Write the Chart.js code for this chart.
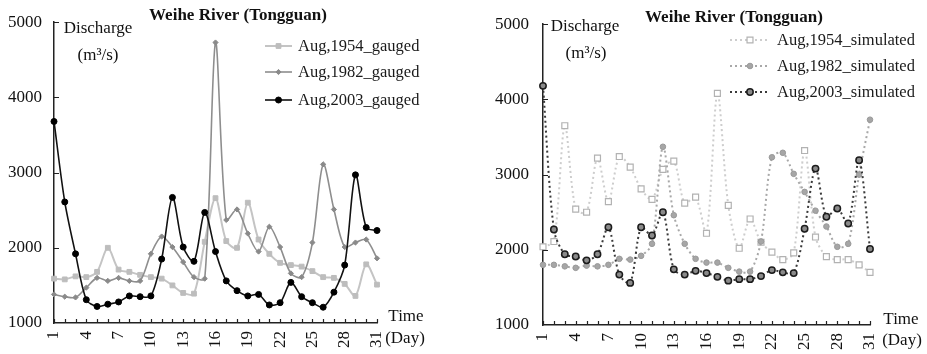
<!DOCTYPE html>
<html>
<head>
<meta charset="utf-8">
<script src="https://cdn.jsdelivr.net/npm/chart.js"></script>
<style>
  body { margin: 0; background: #fff; }
  #wrap { position: relative; width: 927px; height: 354px; }
  canvas { position: absolute; top: 0; }
  #left { left: 0; }
  #right { left: 463px; }
</style>
</head>
<body>
<div id="wrap">
  <canvas id="left" width="463" height="354"></canvas>
  <canvas id="right" width="464" height="354"></canvas>
</div>
<script>
// --- data (discharge, m3/s) ---
const days = ['1','2','3','4','5','6','7','8','9','10','11','12','13','14','15','16',
              '17','18','19','20','21','22','23','24','25','26','27','28','29','30','31'];
const yTicks = [1000, 2000, 3000, 4000, 5000];

const gauged1954 = [1590,1580,1620,1610,1680,2000,1710,1680,1640,1610,1590,1500,1400,1390,2080,2660,
                    2090,2000,2600,2110,1920,1800,1770,1750,1690,1610,1600,1520,1360,1780,1510];
const gauged1982 = [1380,1350,1340,1470,1600,1560,1600,1560,1560,1920,2150,2010,1810,1610,1590,4730,
                    2370,2510,2190,1950,2280,2010,1660,1610,2070,3110,2510,2010,2070,2110,1860];
const gauged2003 = [3680,2610,1920,1310,1220,1250,1280,1360,1350,1360,1850,2670,2010,1820,2470,1950,
                    1560,1430,1360,1380,1240,1270,1540,1350,1270,1210,1410,1770,2970,2270,2230];

const sim1954 = [2040,2110,3650,2540,2500,3220,2640,3240,3100,2810,2670,3070,3180,2620,2700,2220,
                 4080,2590,2020,2410,2100,1970,1870,1960,3320,2170,1910,1870,1870,1800,1700];
const sim1982 = [1800,1800,1780,1760,1790,1780,1800,1880,1870,1920,2080,3370,2460,2080,1880,1830,
                 1830,1760,1710,1710,2110,3230,3290,3010,2770,2520,2310,2040,2080,3000,3730];
const sim2003 = [4180,2270,1940,1910,1860,1940,2300,1670,1560,2300,2190,2500,1740,1670,1720,1690,
                 1640,1590,1610,1610,1650,1730,1700,1690,2280,3080,2440,2550,2350,3190,2010];

const axisColor = '#222';
const serif = '"Liberation Serif", "Times New Roman", serif';

function drawMarker(ctx, ds, x, y) {
    ctx.save();
    ctx.setLineDash([]);
    ctx.fillStyle = ds.pointBackgroundColor;
    ctx.strokeStyle = ds.pointBorderColor;
    ctx.lineWidth = ds.pointBorderWidth || 1;
    const r = ds.pointRadius;
    ctx.beginPath();
    if (ds.pointStyle === 'rect') {
        const s = Math.SQRT1_2 * r;
        ctx.rect(x - s, y - s, 2 * s, 2 * s);
    } else if (ds.pointStyle === 'rectRot') {
        ctx.moveTo(x, y - r); ctx.lineTo(x + r, y); ctx.lineTo(x, y + r); ctx.lineTo(x - r, y);
        ctx.closePath();
    } else {
        ctx.arc(x, y, r, 0, Math.PI * 2);
    }
    ctx.fill();
    ctx.stroke();
    ctx.restore();
}

// titles, axis captions, inner tick marks and the legend
const decor = {
    id: 'decor',
    afterDraw(chart, args, o) {
        const ctx = chart.ctx, a = chart.chartArea;
        const xs = chart.scales.x, ys = chart.scales.y;
        ctx.save();

        ctx.strokeStyle = axisColor;
        ctx.lineWidth = 1.2;
        ctx.beginPath();
        days.forEach((d, i) => {
            const px = Math.round(xs.getPixelForValue(i)) + 0.5;
            ctx.moveTo(px, a.bottom);
            ctx.lineTo(px, a.bottom - 4);
        });
        yTicks.forEach(v => {
            if (v === yTicks[0]) return;
            const py = Math.round(ys.getPixelForValue(v)) + 0.5;
            ctx.moveTo(a.left, py);
            ctx.lineTo(a.left + 5, py);
        });
        ctx.stroke();

        ctx.fillStyle = '#111';
        ctx.textAlign = 'center';
        ctx.textBaseline = 'middle';
        ctx.font = 'bold 17px ' + serif;
        ctx.fillText('Weihe River (Tongguan)', o.title[0], o.title[1]);
        ctx.font = '17px ' + serif;
        ctx.fillText('Discharge', o.discharge[0], o.discharge[1]);
        ctx.fillText('(m\u00B3/s)', o.unit[0], o.unit[1]);
        ctx.fillText('Time', o.time[0], o.time[1]);
        ctx.fillText('(Day)', o.day[0], o.day[1]);

        // legend
        ctx.font = '16.5px ' + serif;
        ctx.textAlign = 'left';
        chart.data.datasets.forEach((ds, i) => {
            const y = o.legend.rows[i];
            ctx.save();
            ctx.strokeStyle = ds.borderColor;
            ctx.lineWidth = ds.borderWidth;
            ctx.setLineDash(ds.borderDash || []);
            ctx.beginPath();
            ctx.moveTo(o.legend.x0, y);
            ctx.lineTo(o.legend.x1, y);
            ctx.stroke();
            ctx.restore();
            drawMarker(ctx, ds, (o.legend.x0 + o.legend.x1) / 2, y);
            ctx.fillStyle = '#1a1a1a';
            ctx.fillText(ds.label, o.legend.tx, y + 1);
        });
        ctx.restore();
    }
};

function makeOptions(p) {
    return {
        responsive: false,
        animation: false,
        layout: { padding: { top: 22, right: p.padRight, left: 0, bottom: 0 } },
        plugins: {
            legend: { display: false },
            tooltip: { enabled: false },
            decor: p.decor
        },
        elements: { line: { tension: 0.3 } },
        scales: {
            x: {
                type: 'category',
                offset: false,
                grid: { display: false, drawTicks: false },
                border: { display: true, color: axisColor, width: 1.5 },
                afterFit: s => { s.height = p.xHeight; },
                ticks: {
                    autoSkip: false,
                    minRotation: 90,
                    maxRotation: 90,
                    padding: 8,
                    color: '#111',
                    font: { family: serif, size: 17 },
                    callback: function (v, i) { return i % 3 === 0 ? this.getLabelForValue(v) : ''; }
                }
            },
            y: {
                min: 1000,
                max: 5000,
                grid: { display: false, drawTicks: false },
                border: { display: true, color: axisColor, width: 1.5 },
                afterFit: s => { s.width = p.yWidth; },
                afterBuildTicks: s => { s.ticks = yTicks.map(v => ({ value: v })); },
                ticks: {
                    padding: p.yPad,
                    color: '#111',
                    font: { family: serif, size: 17 },
                    callback: v => String(v)
                }
            }
        }
    };
}

new Chart(document.getElementById('left'), {
    type: 'line',
    data: {
        labels: days,
        datasets: [
            { label: 'Aug,1954_gauged', data: gauged1954, order: 3,
              borderColor: '#c4c4c4', borderWidth: 2,
              pointStyle: 'rect', pointRadius: 3.4, pointBackgroundColor: '#bdbdbd', pointBorderColor: '#bdbdbd', pointBorderWidth: 1 },
            { label: 'Aug,1982_gauged', data: gauged1982, order: 2,
              borderColor: '#8e8e8e', borderWidth: 1.6,
              pointStyle: 'rectRot', pointRadius: 2.6, pointBackgroundColor: '#8a8a8a', pointBorderColor: '#8a8a8a', pointBorderWidth: 1 },
            { label: 'Aug,2003_gauged', data: gauged2003, order: 1,
              borderColor: '#111', borderWidth: 1.6,
              pointStyle: 'circle', pointRadius: 3, pointBackgroundColor: '#000', pointBorderColor: '#000', pointBorderWidth: 1 }
        ]
    },
    options: makeOptions({
        padRight: 86, xHeight: 31, yWidth: 54, yPad: 12,
        decor: {
            title: [238, 16], discharge: [98, 29], unit: [98, 56], time: [406, 317], day: [405, 339],
            legend: { x0: 265, x1: 292, tx: 298, rows: [46, 72, 100] }
        }
    }),
    plugins: [decor]
});

new Chart(document.getElementById('right'), {
    type: 'line',
    data: {
        labels: days,
        datasets: [
            { label: 'Aug,1954_simulated', data: sim1954, order: 3,
              borderColor: '#cdcdcd', borderWidth: 2, borderDash: [2, 3],
              pointStyle: 'rect', pointRadius: 4.2, pointBackgroundColor: '#fff', pointBorderColor: '#b2b2b2', pointBorderWidth: 1.2 },
            { label: 'Aug,1982_simulated', data: sim1982, order: 2,
              borderColor: '#a8a8a8', borderWidth: 2, borderDash: [2, 3],
              pointStyle: 'circle', pointRadius: 2.8, pointBackgroundColor: '#a6a6a6', pointBorderColor: '#999', pointBorderWidth: 1 },
            { label: 'Aug,2003_simulated', data: sim2003, order: 1,
              borderColor: '#3a3a3a', borderWidth: 2, borderDash: [2, 3],
              pointStyle: 'circle', pointRadius: 3.2, pointBackgroundColor: '#8a8a8a', pointBorderColor: '#1c1c1c', pointBorderWidth: 1.5 }
        ]
    },
    options: makeOptions({
        padRight: 57, xHeight: 29, yWidth: 80, yPad: 14,
        decor: {
            title: [271, 18], discharge: [122, 27], unit: [123, 54], time: [438, 320], day: [439, 341],
            legend: { x0: 267, x1: 307, tx: 314, rows: [40, 66, 92] }
        }
    }),
    plugins: [decor]
});
</script>
</body>
</html>
